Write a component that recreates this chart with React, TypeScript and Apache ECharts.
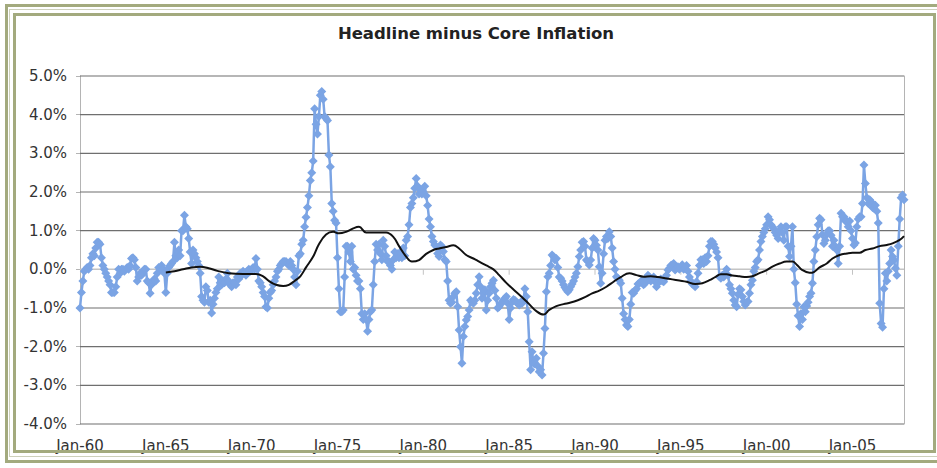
import React, { useEffect, useRef } from "react";
import * as echarts from "echarts";

const TITLE = "Headline minus Core Inflation";
const START_YEAR = 1960;

// Headline minus core CPI inflation, monthly, Jan-60 .. Jan-08 (percent)
const d1960s: number[] = [
  -1.0, -0.6, -0.3, -0.05, 0.0, 0.05, 0.0, 0.1, 0.3, 0.4, 0.35, 0.55,
  0.7, 0.7, 0.65, 0.3, 0.1, 0.0, -0.1, -0.2, -0.3, -0.4, -0.6, -0.6,
  -0.6, -0.45, -0.2, 0.0, -0.1, 0.0, 0.0, -0.05, 0.0, 0.05, 0.0, 0.1,
  0.28, 0.3, 0.25, 0.05, -0.3, -0.2, -0.1, -0.15, -0.1, 0.0, 0.0, -0.3,
  -0.35, -0.62, -0.4, -0.3, -0.25, -0.3, -0.1, 0.05, 0.0, 0.1, 0.0, -0.1,
  -0.6, -0.1, 0.05, 0.1, 0.15, 0.2, 0.7, 0.35, 0.3, 0.5, 0.35, 1.0,
  1.0, 1.4, 1.1, 1.05, 0.8, 0.45, 0.15, 0.5, 0.4, 0.3, 0.2, 0.1,
  -0.1, -0.7, -0.8, -0.85, -0.45, -0.55, -0.85, -0.8, -1.13, -0.9, -0.75, -0.6,
  -0.5, -0.2, -0.35, -0.4, -0.3, -0.35, -0.25, -0.1, -0.3, -0.4, -0.45, -0.35,
  -0.35, -0.4, -0.2, -0.25, -0.1, -0.15, -0.05, -0.1, -0.15, -0.05, 0.0, -0.05,
];
const d1970s: number[] = [
  0.0, 0.05, 0.0, 0.28, 0.0, -0.3, -0.35, -0.45, -0.6, -0.7, -0.97, -1.0,
  -0.75, -0.6, -0.55, -0.4, -0.3, -0.2, -0.05, 0.0, 0.1, 0.15, 0.2, 0.2,
  0.2, 0.15, 0.1, 0.2, 0.1, 0.0, -0.2, -0.4, -0.05, 0.35, 0.4, 0.65,
  0.75, 1.1, 1.35, 1.6, 1.9, 2.3, 2.5, 2.8, 4.15, 3.75, 3.5, 3.95,
  4.5, 4.6, 4.4, 3.95, 3.9, 3.85, 2.96, 2.65, 1.7, 1.5, 1.27, 1.2,
  0.3, -0.5, -1.1, -1.1, -1.05, -0.2, 0.6, 0.6, 0.45, 0.2, 0.6, 0.0,
  0.05, -0.15, -0.3, -0.3, -0.5, -1.15, -1.3, -1.15, -1.3, -1.6, -1.3, -1.1,
  -1.05, -0.4, 0.2, 0.65, 0.5, 0.65, 0.4, 0.25, 0.75, 0.6, 0.35, 0.2,
  0.2, 0.1, 0.0, 0.25, 0.45, 0.3, 0.4, 0.3, 0.45, 0.3, 0.55, 0.35,
  0.75, 0.85, 1.15, 1.6, 1.7, 1.85, 2.1, 2.35, 2.15, 1.95, 2.05, 1.95,
];
const d1980s: number[] = [
  2.0, 2.15, 1.9, 1.65, 1.3, 1.1, 0.85, 0.72, 0.63, 0.59, 0.41, 0.33,
  0.63, 0.59, 0.46, 0.25, 0.2, -0.3, -0.8, -0.88, -0.85, -0.7, -0.62, -0.58,
  -0.97, -1.57, -2.0, -2.43, -1.74, -1.48, -1.31, -1.22, -1.05, -0.8, -0.85, -0.88,
  -0.8, -0.62, -0.4, -0.19, -0.45, -0.75, -0.62, -0.53, -1.05, -0.8, -0.62, -0.45,
  -0.36, -0.28, -0.55, -0.75, -1.0, -0.97, -0.9, -0.85, -0.8, -0.75, -0.7, -0.88,
  -1.3, -1.0, -0.85, -0.78, -0.8, -0.85, -0.88, -0.92, -0.85, -0.88, -0.8, -0.5,
  -0.7, -1.1, -1.87, -2.6, -2.13, -2.43, -2.45, -2.3, -2.5, -2.65, -2.6, -2.73,
  -2.17, -1.53, -0.58, -0.19, -0.1, 0.1, 0.37, 0.33, 0.24, 0.28, 0.05, -0.2,
  -0.23, -0.3, -0.4, -0.47, -0.53, -0.58, -0.53, -0.45, -0.38, -0.3, -0.2, -0.1,
  0.07, 0.33, 0.5, 0.7, 0.72, 0.6, 0.24, 0.2, 0.11, 0.24, 0.55, 0.8,
];
const d1990s: number[] = [
  0.75, 0.62, 0.5, 0.07, -0.36, -0.1, 0.4, 0.75, 0.85, 0.8, 0.97, 0.85,
  0.55, 0.2, 0.0, -0.19, -0.23, -0.28, -0.36, -0.75, -1.15, -1.3, -1.44, -1.48,
  -1.3, -0.9, -0.6, -0.62, -0.55, -0.5, -0.38, -0.36, -0.32, -0.28, -0.4, -0.36,
  -0.25, -0.15, -0.2, -0.3, -0.25, -0.2, -0.32, -0.45, -0.36, -0.28, -0.25, -0.3,
  -0.32, -0.23, -0.15, -0.02, 0.03, 0.1, 0.12, 0.15, -0.02, 0.03, 0.07, 0.0,
  0.05, 0.12, 0.0, 0.03, 0.1, -0.05, -0.2, -0.3, -0.38, -0.4, -0.45, -0.32,
  -0.1, 0.1, 0.25, 0.25, 0.15, 0.3, 0.2, 0.35, 0.6, 0.72, 0.72, 0.65,
  0.55, 0.45, 0.3, -0.19, -0.23, -0.15, -0.2, -0.1, 0.0, -0.15, -0.4, -0.5,
  -0.62, -0.8, -0.92, -0.97, -0.65, -0.5, -0.53, -0.7, -0.83, -0.92, -0.85, -0.83,
  -0.62, -0.4, -0.28, -0.05, 0.05, 0.2, 0.25, 0.5, 0.72, 0.85, 0.95, 1.05,
];
const d2000s: number[] = [
  1.15, 1.36, 1.28, 1.15, 1.1, 1.05, 0.95, 0.88, 0.8, 1.0, 1.1, 0.95,
  0.75, 1.1, 1.1, 0.6, 0.33, 0.6, 1.1, 0.0, -0.35, -0.9, -1.2, -1.48,
  -1.14, -1.3, -0.97, -1.1, -0.95, -0.85, -0.7, -0.62, -0.36, 0.2, 0.5, 0.84,
  1.15, 1.32, 1.28, 0.9, 0.67, 0.75, 0.9, 1.0, 1.0, 0.88, 0.6, 0.75,
  0.6, 0.5, 0.15, 0.6, 1.45, 1.36, 1.36, 1.25, 1.25, 1.1, 1.25, 1.0,
  0.8, 0.63, 0.68, 1.1, 1.3, 1.36, 1.36, 1.7, 2.7, 2.22, 1.85, 1.7,
  1.8, 1.75, 1.6, 1.58, 1.66, 1.5, 1.2, -0.88, -1.4, -1.5, -0.5, -0.1,
  -0.3, -0.05, 0.15, 0.5, 0.33, 0.24, 0.03, -0.15, 0.6, 1.3, 1.85, 1.92,
  1.8,
];

// Moving-average trend (black line): [month index from Jan-60, percent]
const trendMonths: number[] = [
  60, 66, 72, 78, 84, 90, 96, 104, 114, 123, 128, 132, 137, 142, 146, 150, 154, 158,
  163, 167, 172, 177, 181, 186, 191, 195, 200, 205, 209, 214, 219, 223, 228, 232,
  237, 242, 247, 251, 256, 261, 265, 270, 275, 279, 284, 289, 293, 298, 303, 309,
  314, 319, 324, 328, 333, 338, 343, 348, 353, 358, 363, 368, 373, 378, 384, 389,
  394, 399, 404, 409, 414, 419, 424, 430, 435, 440, 444, 448, 452, 456, 461, 466,
  470, 475, 480, 484, 489, 494, 498, 501, 505, 510, 513, 517, 522, 526, 531, 536,
  540, 545, 549, 554, 559, 564, 568, 573, 576,
];
const trendValues: number[] = [
  -0.08, -0.05, 0.0, 0.05, 0.07, 0.03, -0.04, -0.1, -0.12, -0.12, -0.18, -0.3, -0.4, -0.43, -0.4, -0.3, -0.18, 0.05,
  0.33, 0.65, 0.9, 0.97, 0.93, 0.97, 1.06, 1.1, 0.95, 0.95, 0.95, 0.95, 0.84, 0.6, 0.33, 0.2,
  0.24, 0.4, 0.5, 0.54, 0.58, 0.62, 0.54, 0.37, 0.28, 0.2, 0.1, 0.0, -0.15, -0.35, -0.52, -0.72,
  -0.9, -1.08, -1.17, -1.05, -0.95, -0.9, -0.86, -0.8, -0.72, -0.62, -0.55, -0.45, -0.32, -0.2, -0.1, -0.15,
  -0.19, -0.18, -0.2, -0.23, -0.26, -0.29, -0.32, -0.38, -0.36, -0.28, -0.2, -0.13, -0.13, -0.16, -0.18, -0.2,
  -0.18, -0.1, -0.02, 0.07, 0.15, 0.2, 0.2, 0.12, -0.02, -0.09, -0.07, 0.05, 0.15, 0.28, 0.37, 0.41,
  0.43, 0.43, 0.5, 0.54, 0.6, 0.63, 0.67, 0.76, 0.86,
];

// Horizontal gridlines (percent) and the year ticks on the zero line (month index)
const gridValues: number[] = [-4, -3, -2, -1, 0, 1, 2, 3, 4, 5];
const zeroTickMonths: number[] = [60, 120, 180, 240, 300, 360, 420, 480, 540];

const Y_MIN = -4;
const Y_MAX = 5;
const LABEL_EVERY_MONTHS = 60;

const FONT = '"DejaVu Sans", Verdana, sans-serif';
const OLIVE = "#a3aa7e";
const BLUE = "#7ba4e4";
const GRID_DARK = "#6f6f6f";
const GRID_LIGHT = "#c4c4c4";
const BORDER = "#b4b4b4";

function monthLabel(m: number): string {
  const year = START_YEAR + Math.floor(m / 12);
  return "Jan-" + String(year % 100).padStart(2, "0");
}

const frameBase: React.CSSProperties = {
  position: "absolute",
  boxSizing: "border-box",
  pointerEvents: "none",
  background: "transparent",
};

export default function App() {
  const ref = useRef<HTMLDivElement>(null);

  useEffect(() => {
    document.body.style.margin = "0";
    if (!ref.current) return;
    const chart = echarts.init(ref.current, undefined, { renderer: "svg" });

    const monthly = [...d1960s, ...d1970s, ...d1980s, ...d1990s, ...d2000s];
    const lastMonth = monthly.length - 1;
    const blueData = monthly.map((v, i) => [i, v]);
    const trendData = trendMonths.map((m, i) => [m, trendValues[i]]);

    const gridSeries = gridValues.map((v) => ({
      type: "line",
      silent: true,
      clip: false,
      symbol: "none",
      data: [
        [0, v],
        [lastMonth, v],
      ],
      lineStyle: { color: v === 0 ? GRID_LIGHT : GRID_DARK, width: v === 0 ? 1.5 : 1.2 },
      z: 1,
      tooltip: { show: false },
    }));

    chart.setOption({
      animation: false,
      backgroundColor: "#ffffff",
      textStyle: { fontFamily: FONT },
      title: {
        text: TITLE,
        left: 471,
        top: 20,
        textAlign: "center",
        textStyle: { fontFamily: FONT, fontSize: 16.5, fontWeight: "bold", color: "#222222" },
      },
      grid: {
        left: 80,
        right: 33,
        top: 76,
        bottom: 44,
        show: false,
      },
      xAxis: {
        type: "value",
        position: "bottom",
        min: 0,
        max: lastMonth,
        interval: LABEL_EVERY_MONTHS,
        axisLine: { show: false, onZero: false },
        axisTick: { show: false },
        splitLine: { show: false },
        axisLabel: {
          margin: 14,
          fontSize: 15,
          color: "#333333",
          fontFamily: FONT,
          formatter: (v: number) => (v % LABEL_EVERY_MONTHS === 0 ? monthLabel(v) : ""),
        },
      },
      yAxis: [
        {
          type: "value",
          min: Y_MIN,
          max: Y_MAX,
          interval: 1,
          position: "left",
          axisLine: { show: true, onZero: false, lineStyle: { color: BORDER, width: 1 } },
          axisTick: { show: true, length: 4, lineStyle: { color: BORDER } },
          axisLabel: {
            margin: 13,
            fontSize: 15,
            color: "#333333",
            fontFamily: FONT,
            formatter: (v: number) => v.toFixed(1) + "%",
          },
          splitLine: { show: false },
        },
        {
          type: "value",
          min: Y_MIN,
          max: Y_MAX,
          interval: 1,
          position: "right",
          axisLine: { show: true, onZero: false, lineStyle: { color: BORDER, width: 1 } },
          axisTick: { show: false },
          axisLabel: { show: false },
          splitLine: { show: false },
        },
      ],
      series: [
        ...gridSeries,
        {
          type: "scatter",
          silent: true,
          symbol: "rect",
          symbolSize: [1, 5],
          symbolOffset: [0, 3],
          data: zeroTickMonths.map((m) => [m, 0]),
          itemStyle: { color: BORDER },
          z: 1,
        },
        {
          type: "line",
          name: "Headline minus core",
          data: blueData,
          symbol: "diamond",
          symbolSize: 9,
          showSymbol: true,
          lineStyle: { color: BLUE, width: 2.5 },
          itemStyle: { color: BLUE },
          z: 2,
        },
        {
          type: "line",
          name: "Moving average",
          data: trendData,
          smooth: 0.4,
          symbol: "none",
          lineStyle: { color: "#111111", width: 2 },
          z: 3,
        },
      ],
    });

    return () => chart.dispose();
  }, []);

  return (
    <div style={{ position: "absolute", left: 0, top: 0, width: 937, height: 468, overflow: "hidden", background: "#fff" }}>
      <div ref={ref} style={{ position: "absolute", left: 0, top: 0, width: 937, height: 468 }} />
      <div style={{ ...frameBase, left: 5, top: 4, width: 945, height: 459, border: `3px solid ${OLIVE}` }} />
      <div style={{ ...frameBase, left: 9, top: 9, width: 935, height: 448, border: "1px solid #cdd0bb" }} />
      <div style={{ ...frameBase, left: 13, top: 13, width: 923, height: 440, border: `3px solid ${OLIVE}` }} />
    </div>
  );
}
